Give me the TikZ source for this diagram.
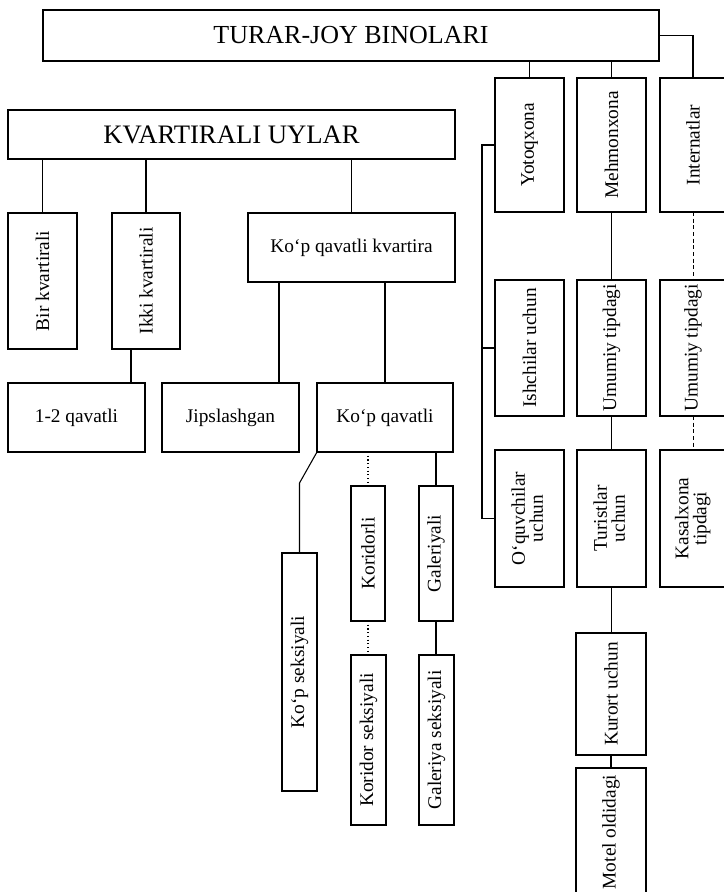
\documentclass[tikz,border=0pt]{standalone}
\usepackage{fontspec}
\setmainfont{Liberation Serif}
\usepackage{graphicx}
\usetikzlibrary{calc}
\newcommand\vtext[1]{\rotatebox{90}{#1}}
\newcommand\vtwo[2]{\rotatebox{90}{\begin{tabular}{@{}c@{}}#1\\[-2.5pt]#2\end{tabular}}}
\begin{document}
\begin{tikzpicture}[x=0.75pt,y=-0.75pt,
  box/.style={draw, line width=0.9pt, inner sep=0pt, outer sep=0pt, font=\fontsize{14.5}{16}\selectfont},
  big/.style={font=\fontsize{19.5}{22}\selectfont},
  ln/.style={line width=0.8pt},
  dln/.style={line width=0.6pt, dash pattern=on 3pt off 2pt},
  dtl/.style={line width=0.8pt, dotted}]
\clip (0,0) rectangle (724,892);
% top level
\node[box,big,minimum width=462pt,minimum height=38.25pt] (top) at (351,35.5) {TURAR-JOY BINOLARI};
\node[box,big,font=\fontsize{20}{22}\selectfont,minimum width=335.25pt,minimum height=36.75pt] (ku) at (231.5,134.5) {KVARTIRALI UYLAR};
% right columns
\node[box,minimum width=51.75pt,minimum height=100.5pt] (yot) at (529.5,145) {\vtext{Yotoqxona}};
\node[box,minimum width=51.75pt,minimum height=100.5pt] (meh) at (611.5,145) {\vtext{Mehmonxona}};
\node[box,minimum width=49.5pt,minimum height=100.5pt] (int) at (693,145) {\vtext{Internatlar}};
\node[box,minimum width=51.75pt,minimum height=102pt] (ish) at (529.5,348) {\vtext{Ishchilar uchun}};
\node[box,minimum width=51.75pt,minimum height=102pt] (um1) at (611.5,348) {\vtext{Umumiy tipdagi}};
\node[box,minimum width=49.5pt,minimum height=102pt] (um2) at (693,348) {\vtext{Umumiy tipdagi}};
\node[box,minimum width=51.75pt,minimum height=102.75pt] (oq) at (529.5,518.5) {\vtwo{O‘quvchilar}{uchun}};
\node[box,minimum width=51.75pt,minimum height=102.75pt] (tur) at (611.5,518.5) {\vtwo{Turistlar}{uchun}};
\node[box,minimum width=49.5pt,minimum height=102.75pt] (kas) at (693,518.5) {\vtwo{Kasalxona}{tipdagi}};
\node[box,minimum width=52.5pt,minimum height=91.5pt] (kur) at (611,694) {\vtext{Kurort uchun}};
\node[box,minimum width=52.5pt,minimum height=96pt] (mot) at (611,832) {\vtext{Motel oldidagi}};
% left part
\node[box,minimum width=51.75pt,minimum height=102pt] (bir) at (42.5,281) {\vtext{Bir kvartirali}};
\node[box,minimum width=51pt,minimum height=102pt] (ikki) at (146,281) {\vtext{Ikki kvartirali}};
\node[box,minimum width=155.25pt,minimum height=51.75pt] (kpk) at (351.5,247.5) {Ko‘p qavatli kvartira};
\node[box,minimum width=102.75pt,minimum height=51.75pt] (q12) at (76.5,417.5) {1-2 qavatli};
\node[box,minimum width=102.75pt,minimum height=51.75pt] (jip) at (230.5,417.5) {Jipslashgan};
\node[box,minimum width=102pt,minimum height=51.75pt] (kq) at (385,417.5) {Ko‘p qavatli};
\node[box,minimum width=26.25pt,minimum height=178.5pt] (kps) at (299.5,672) {\vtext{Ko‘p seksiyali}};
\node[box,minimum width=25.5pt,minimum height=101.25pt] (kor) at (368,553.5) {\vtext{Koridorli}};
\node[box,minimum width=25.5pt,minimum height=101.25pt] (gal) at (436,553.5) {\vtext{Galeriyali}};
\node[box,minimum width=26.25pt,minimum height=127.5pt] (kors) at (368.5,740) {\vtext{Koridor seksiyali}};
\node[box,minimum width=26.25pt,minimum height=127.5pt] (gals) at (436.5,740) {\vtext{Galeriya seksiyali}};
% connectors: top
\draw[ln] (top.south -| yot.north) -- (yot.north);
\draw[ln] (top.south -| meh.north) -- (meh.north);
\draw[ln] (top.east) -| (int.north);
\draw[ln] (yot.west) -- ++(-13,0) |- (oq.west);
\draw[ln] (ish.west) -- ++(-13,0);
\draw[ln] (meh.south) -- (um1.north);
\draw[ln] (um1.south) -- (tur.north);
\draw[ln] (tur.south) -- (tur.south |- kur.north);
\draw[ln] (kur.south) -- (mot.north);
\draw[dln] (int.south) -- (um2.north);
\draw[dln] (um2.south) -- (kas.north);
% connectors: kvartirali
\draw[ln] (ku.south -| bir.north) -- (bir.north);
\draw[ln] (ku.south -| ikki.north) -- (ikki.north);
\draw[ln] (ku.south -| kpk.north) -- (kpk.north);
\coordinate (ik1) at ($(ikki.south)+(-15,0)$);
\draw[ln] (ik1) -- (ik1 |- q12.north);
\coordinate (kp1) at ($(kpk.south)+(-72.5,0)$);
\draw[ln] (kp1) -- (kp1 |- jip.north);
\draw[ln] (kpk.south -| kq.north) -- (kq.north);
\draw[ln] (kq.south west) -- ($(kps.north)+(0,-70)$) -- (kps.north);
\draw[dtl] (kq.south -| kor.north) -- (kor.north);
\draw[ln] (kq.south -| gal.north) -- (gal.north);
\draw[dtl] (kor.south) -- (kor.south |- kors.north);
\draw[ln] (gal.south) -- (gal.south |- gals.north);
\end{tikzpicture}
\end{document}
